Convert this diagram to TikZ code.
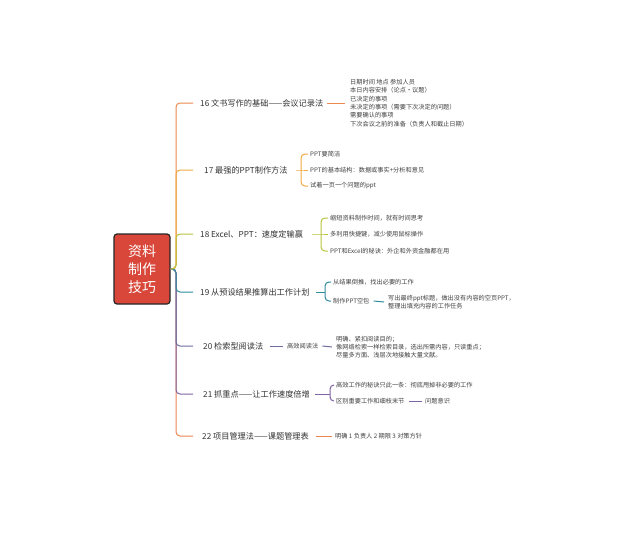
\documentclass[tikz,border=0pt]{standalone}
\usepackage{fontspec}
\setmainfont{Noto Sans CJK SC}
\begin{document}
\begin{tikzpicture}[x=1pt,y=-1pt,
  lab/.style={anchor=west,inner sep=0pt,text=black!80,font=\fontsize{8.2}{10}\selectfont},
  kid/.style={anchor=west,inner sep=0pt,text=black!75,align=left,font=\fontsize{6.2}{8.3}\selectfont},
  ln/.style={line width=1pt},
  br/.style={line width=1pt,rounded corners=4pt},
  rootbox/.style={draw=black!85,fill=rootred,line width=1.2pt,rounded corners=3pt,text=white,align=center,minimum width=56pt,minimum height=70pt,font=\fontsize{14}{18}\selectfont}
]
\definecolor{rootred}{HTML}{D8473A}
\definecolor{cA}{HTML}{EE8A4F}
\definecolor{cB}{HTML}{F0AA40}
\definecolor{cC}{HTML}{B8C43C}
\definecolor{cD}{HTML}{2F8C9C}
\definecolor{cE}{HTML}{6D6E9E}
\definecolor{cF}{HTML}{7E64A3}
\definecolor{cG}{HTML}{EC8550}
\useasboundingbox[fill=white] (0,0) rectangle (640,535);

\node[rootbox] (root) at (142,269) {资料\\制作\\技巧};

% tick ends
\coordinate (t16) at (193,103);
\coordinate (t17) at (193,170);
\coordinate (t18) at (193,234);
\coordinate (t19) at (193,292);
\coordinate (t20) at (193,346);
\coordinate (t21) at (193,394);
\coordinate (t22) at (193,436);
\coordinate (bus) at (176,269);

% bus (farthest first)
\draw[br,cG] (root.east) -- (bus) |- (t22);
\draw[br,cA] (root.east) -- (bus) |- (t16);
\draw[br,cF] (root.east) -- (bus) |- (t21);
\draw[br,cB] (root.east) -- (bus) |- (t17);
\draw[br,cE] (root.east) -- (bus) |- (t20);
\draw[br,cD] (root.east) -- (bus) |- (t19);
\draw[br,cC] (root.east) -- (bus) |- (t18);

% labels
\node[lab] (l16) at (200,103) {16 文书写作的基础——会议记录法};
\node[lab] (l17) at (204,170) {17 最强的PPT制作方法};
\node[lab] (l18) at (200,234) {18 Excel、PPT：速度定输赢};
\node[lab] (l19) at (200,292) {19 从预设结果推算出工作计划};
\node[lab] (l20) at (203,346) {20 检索型阅读法};
\node[lab] (l21) at (203,394) {21 抓重点——让工作速度倍增};
\node[lab] (l22) at (202,436) {22 项目管理法——课题管理表};

% 16
\node[kid] (k16) at (350,103) {日期时间 地点 参加人员\\本日内容安排（论点·议题）\\已决定的事项\\未决定的事项（需要下次决定的问题）\\需要确认的事项\\下次会议之前的准备（负责人和截止日期）};
\draw[ln,cA] ([xshift=4pt]l16.east) -- ([xshift=-5pt]k16.west);

% 17
\node[kid] (k17a) at (310,154) {PPT要简洁};
\node[kid] (k17b) at (310,170) {PPT的基本结构：数据或事实+分析和意见};
\node[kid] (k17c) at (310,186) {试着一页一个问题的ppt};
\coordinate (b17) at (301,170);
\draw[ln,cB] ([xshift=8pt]l17.east) -- (b17) -- ([xshift=-2pt]k17b.west);
\draw[br,cB] ([xshift=-2pt]k17a.west) -| (b17) |- ([xshift=-2pt]k17c.west);

% 18
\node[kid] (k18a) at (330,218) {缩短资料制作时间，就有时间思考};
\node[kid] (k18b) at (330,234) {多利用快捷键，减少使用鼠标操作};
\node[kid] (k18c) at (330,251) {PPT和Excel的秘诀：外企和外资金融都在用};
\coordinate (b18) at (321,234);
\draw[ln,cC] ([xshift=9pt]l18.east) -- (b18) -- ([xshift=-2pt]k18b.west);
\draw[br,cC] ([xshift=-2pt]k18a.west) -| (b18) |- ([xshift=-2pt]k18c.west);

% 19
\node[kid] (k19a) at (333,282) {从结果倒推，找出必要的工作};
\node[kid] (k19b) at (333,301) {制作PPT空包};
\node[kid] (k19c) at (388,302) {写出最终ppt标题，做出没有内容的空页PPT，\\整理出填充内容的工作任务};
\coordinate (b19) at (325,292);
\draw[ln,cD] ([xshift=6pt]l19.east) -- (b19);
\draw[br,cD] ([xshift=-2pt]k19a.west) -| (b19) |- ([xshift=-2pt]k19b.west);
\draw[ln,cD] ([xshift=4pt]k19b.east) -- ([xshift=-4pt]k19c.west);

% 20
\node[kid] (k20a) at (287,346) {高效阅读法};
\node[kid] (k20b) at (336,347) {明确、紧扣阅读目的；\\像网络检索一样检索目录，选出所需内容，只读重点；\\尽量多方面、浅层次地接触大量文献。};
\draw[ln,cE] ([xshift=6pt]l20.east) -- ([xshift=-4pt]k20a.west);
\draw[ln,cE] ([xshift=4pt]k20a.east) -- ([xshift=-4pt]k20b.west);

% 21
\node[kid] (k21a) at (336,385) {高效工作的秘诀只此一条：彻底甩掉非必要的工作};
\node[kid] (k21b) at (336,401) {区别重要工作和细枝末节};
\node[kid] (k21c) at (425,401) {问题意识};
\coordinate (b21) at (330,394);
\draw[ln,cF] ([xshift=5pt]l21.east) -- (b21);
\draw[br,cF] ([xshift=-2pt]k21a.west) -| (b21) |- ([xshift=-2pt]k21b.west);
\draw[ln,cF] ([xshift=4pt]k21b.east) -- ([xshift=-3pt]k21c.west);

% 22
\node[kid] (k22) at (335,436) {明确 1 负责人 2 期限 3 对策方针};
\draw[ln,cG] ([xshift=7pt]l22.east) -- ([xshift=-3pt]k22.west);
\end{tikzpicture}
\end{document}
